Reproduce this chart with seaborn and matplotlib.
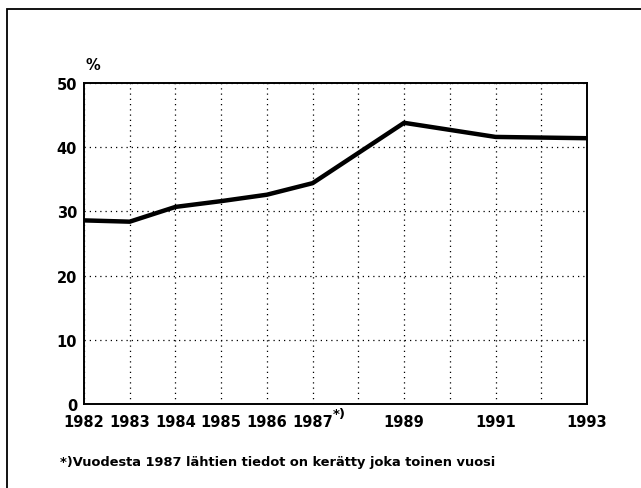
import matplotlib
matplotlib.use("Agg")
import matplotlib.pyplot as plt
import matplotlib.patches as patches
import matplotlib.transforms as mtransforms
import pandas as pd
import seaborn as sns

# data
years = [1982, 1983, 1984, 1985, 1986, 1987, 1989, 1991, 1993]
share = [28.6, 28.4, 30.7, 31.6, 32.6, 34.4, 43.8, 41.6, 41.4]
tick_years = list(range(1982, 1994))
tick_labels = ['1982', '1983', '1984', '1985', '1986', '1987', '',
               '1989', '', '1991', '', '1993']
y_ticks = [0, 10, 20, 30, 40, 50]
footnote = '*)Vuodesta 1987 lähtien tiedot on kerätty joka toinen vuosi'

df = pd.DataFrame({'Vuosi': years, 'Osuus': share})

sns.set_style('white')
plt.rcParams['font.family'] = ['DejaVu Sans']
plt.rcParams['font.weight'] = 'bold'
plt.rcParams['text.color'] = 'black'

fig = plt.figure(figsize=(6.41, 4.89), dpi=100)
ax = fig.add_axes([84 / 641, 1 - 405 / 489, 503 / 641, 321 / 489])

sns.lineplot(data=df, x='Vuosi', y='Osuus', ax=ax, color='black',
             linewidth=3.2, solid_joinstyle='round')

ax.set_xlim(1982, 1993)
ax.set_ylim(0, 50)
ax.set_xticks(tick_years)
ax.set_xticklabels(tick_labels, fontsize=10.5, fontweight='bold')
ax.set_yticks(y_ticks)
ax.set_yticklabels([str(v) for v in y_ticks], fontsize=10.5, fontweight='bold')
ax.set_xlabel('')
ax.set_ylabel('')

ax.grid(True, color='black', linestyle=(0, (1, 3.2)), linewidth=0.9)
for side in ['left', 'bottom', 'right', 'top']:
    ax.spines[side].set_visible(True)
    ax.spines[side].set_color('black')
    ax.spines[side].set_linewidth(1.4)
ax.tick_params(axis='x', direction='out', length=4, width=1.2, pad=3,
               color='black', labelcolor='black')
ax.tick_params(axis='y', direction='out', length=2, width=1.2, pad=3,
               color='black', labelcolor='black')

# footnote marker next to 1987, raised like a superscript
trans = mtransforms.blended_transform_factory(ax.transData, ax.transAxes)
ax.text(1987.45, -0.01, '*)', transform=trans, fontsize=9.5, fontweight='bold',
        color='black', ha='left', va='top', clip_on=False)

fig.text(86 / 641, 1 - 66 / 489, '%', fontsize=10.5, fontweight='bold',
         color='black', ha='left', va='center')
fig.text(60 / 641, 1 - 463 / 489, footnote, fontsize=9.4, fontweight='bold',
         color='black', ha='left', va='center')

# outer frame (only the top and left edges fall inside the image)
fig.patches.append(patches.Rectangle((7 / 641, -0.2), 1.2, 1 - 10 / 489 + 0.2,
                                     transform=fig.transFigure, fill=False,
                                     edgecolor='black', linewidth=1.3))

plt.savefig('out.png', dpi=100)
plt.close()
